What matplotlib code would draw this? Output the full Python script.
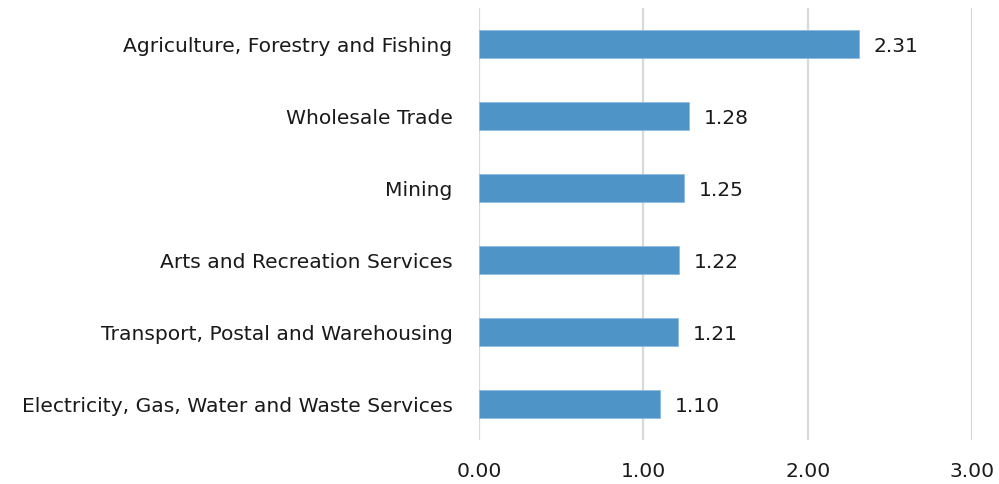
import matplotlib
matplotlib.use("Agg")
import matplotlib.pyplot as plt

# Données du graphique
industries = [
    "Agriculture, Forestry and Fishing",
    "Wholesale Trade",
    "Mining",
    "Arts and Recreation Services",
    "Transport, Postal and Warehousing",
    "Electricity, Gas, Water and Waste Services",
]
values = [2.31, 1.28, 1.25, 1.22, 1.21, 1.10]
xticks = [0, 1, 2, 3]
xtick_labels = ["0.00", "1.00", "2.00", "3.00"]

plt.rcParams['font.family'] = ['DejaVu Sans']
text_color = '#1a1a1a'
bar_color = '#4E94C6'
fs = 14.6

fig = plt.figure(figsize=(9.99, 4.84), dpi=100)
ax = fig.add_axes([479 / 999, 44 / 484, (972 - 479) / 999, (476 - 44) / 484])

pos = list(range(len(industries)))
ax.barh(pos, values, height=0.38, color=bar_color, edgecolor='#8DBBDE', linewidth=0.6, zorder=3)

# Étiquettes de valeur
for p, v in zip(pos, values):
    ax.text(v + 0.09, p + 0.03, f"{v:.2f}", va='center', ha='left', fontsize=fs, color=text_color)

ax.set_ylim(5.5, -0.5)
ax.set_xlim(0, 3)
ax.set_yticks(pos)
ax.set_yticklabels(industries, fontsize=fs, color=text_color)
ax.set_xticks(xticks)
ax.set_xticklabels(xtick_labels, fontsize=fs, color=text_color)

ax.tick_params(axis='both', length=0)
ax.tick_params(axis='y', pad=19)
ax.tick_params(axis='x', pad=16)
ax.grid(axis='x', color='#D9D9D9', linewidth=1.6, zorder=0)
for s in ax.spines.values():
    s.set_visible(False)

fig.savefig("out.png", dpi=100)
